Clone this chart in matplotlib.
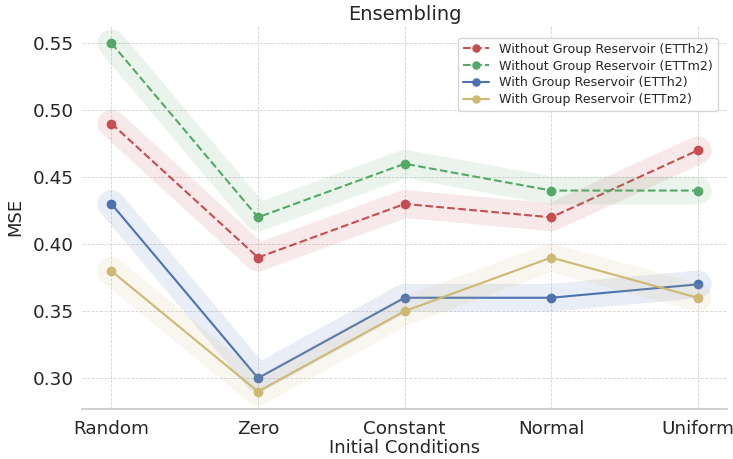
import matplotlib
matplotlib.use("Agg")
import matplotlib.pyplot as plt
import seaborn as sns

conditions = ["Random", "Zero", "Constant", "Normal", "Uniform"]
without_etth2 = [0.49, 0.39, 0.43, 0.42, 0.47]
without_ettm2 = [0.55, 0.42, 0.46, 0.44, 0.44]
with_etth2 = [0.43, 0.30, 0.36, 0.36, 0.37]
with_ettm2 = [0.38, 0.29, 0.35, 0.39, 0.36]

sns.set_theme(style="whitegrid")
palette = sns.color_palette("deep")

fig, ax = plt.subplots(figsize=(7.33, 4.59), dpi=100)

series = [
    (without_etth2, "Without Group Reservoir (ETTh2)", palette[3], "--"),
    (without_ettm2, "Without Group Reservoir (ETTm2)", palette[2], "--"),
    (with_etth2, "With Group Reservoir (ETTh2)", palette[0], "-"),
    (with_ettm2, "With Group Reservoir (ETTm2)", palette[8], "-"),
]

x = range(len(conditions))
for values, label, color, ls in series:
    # wide soft band behind the line
    ax.plot(x, values, color=color, linewidth=20, alpha=0.12,
            solid_capstyle="round", solid_joinstyle="round")
    ax.plot(x, values, color=color, linestyle=ls, marker="o",
            markersize=6, linewidth=1.5, label=label)

ax.set_xticks(list(x))
ax.set_xticklabels(conditions)
ax.tick_params(axis="both", labelsize=13.2, colors="#262626")
ax.tick_params(axis="x", pad=2)
ax.tick_params(axis="y", pad=0)
ax.set_xlabel("Initial Conditions", fontsize=13, labelpad=1)
ax.set_ylabel("MSE", fontsize=13, labelpad=6)
ax.set_title("Ensembling", fontsize=14, pad=4)
ax.grid(True, linestyle="--", linewidth=0.6, color="#d5d5d5")

sns.despine(ax=ax, left=True)
ax.spines["bottom"].set_color("#cccccc")

ax.legend(loc="upper right", fontsize=9.1, frameon=True, labelspacing=0.3,
          markerscale=0.85, bbox_to_anchor=(0.995, 0.985))

plt.subplots_adjust(left=0.112, right=0.992, bottom=0.109, top=0.944)
plt.savefig("out.png", dpi=100)
